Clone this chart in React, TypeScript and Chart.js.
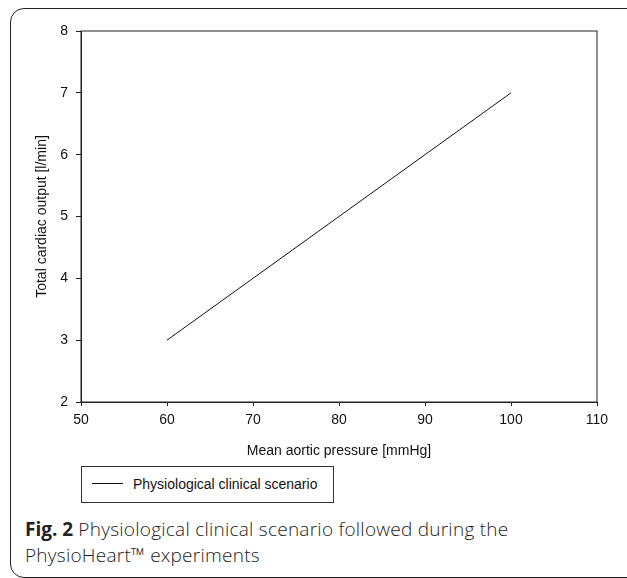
import React, { useEffect, useRef } from "react";
import { Chart, registerables } from "chart.js";

Chart.register(...registerables);

const pressure = [60, 70, 80, 90, 100];
const cardiacOutput = [3, 4, 5, 6, 7];
const seriesLabel = "Physiological clinical scenario";
const xTitle = "Mean aortic pressure [mmHg]";
const yTitle = "Total cardiac output [l/min]";

const frameBorder = {
  id: "frameBorder",
  afterDraw(chart: any) {
    const { ctx, chartArea } = chart;
    ctx.save();
    ctx.strokeStyle = "#222";
    ctx.lineWidth = 1;
    ctx.strokeRect(chartArea.left, chartArea.top, chartArea.right - chartArea.left, chartArea.bottom - chartArea.top);
    ctx.restore();
  },
};

export default function App() {
  const ref = useRef<HTMLCanvasElement>(null);
  useEffect(() => {
    const font = { family: "'Liberation Sans', Arial, sans-serif", size: 14 };
    const chart = new Chart(ref.current!, {
      type: "line",
      data: {
        datasets: [
          {
            label: seriesLabel,
            data: pressure.map((x, i) => ({ x, y: cardiacOutput[i] })),
            borderColor: "#111",
            borderWidth: 1,
            pointRadius: 0,
            tension: 0,
          },
        ],
      },
      options: {
        animation: false,
        responsive: false,
        layout: { padding: { left: 30, right: 30, top: 31, bottom: 0 } },
        plugins: { legend: { display: false }, tooltip: { enabled: false } },
        scales: {
          x: {
            type: "linear",
            min: 50,
            max: 110,
            ticks: { stepSize: 10, color: "#111", font, padding: 6 },
            grid: { display: true, drawOnChartArea: false, tickLength: 4, color: "#222" },
            border: { display: true, color: "#222" },
            title: { display: true, text: xTitle, color: "#111", font, padding: { top: 0, bottom: 0 } },
            afterFit: (s: any) => { s.height = 58; },
          },
          y: {
            type: "linear",
            min: 2,
            max: 8,
            ticks: { stepSize: 1, color: "#111", font, padding: 8 },
            grid: { display: true, drawOnChartArea: false, tickLength: 5, color: "#222" },
            border: { display: true, color: "#222" },
            title: { display: true, text: yTitle, color: "#111", font, padding: { top: 4, bottom: 4 } },
            afterFit: (s: any) => { s.width = 51; },
          },
        },
      },
      plugins: [frameBorder],
    });
    return () => chart.destroy();
  }, []);

  return (
    <div style={{ position: "absolute", left: 0, top: 0, width: 627, height: 578, background: "#fff", overflow: "hidden" }}>
      <div
        style={{
          position: "absolute",
          left: 10,
          top: 8,
          width: 640,
          height: 570,
          border: "1.5px solid #222",
          borderRadius: "14px 0 0 14px",
          boxSizing: "border-box",
        }}
      />
      <canvas ref={ref} width={627} height={460} style={{ position: "absolute", left: 0, top: 0, width: 627, height: 460 }} />
      <div
        style={{
          position: "absolute",
          left: 81,
          top: 466,
          width: 253,
          height: 37,
          border: "1px solid #333",
          boxSizing: "border-box",
          fontFamily: "'Liberation Sans', Arial, sans-serif",
          fontSize: 14,
          color: "#111",
        }}
      >
        <div style={{ position: "absolute", left: 10, top: 16, width: 31, height: 1, background: "#111" }} />
        <div style={{ position: "absolute", left: 51, top: 9, whiteSpace: "nowrap", lineHeight: "16px" }}>{seriesLabel}</div>
      </div>
      <div
        style={{
          position: "absolute",
          left: 25,
          top: 516,
          fontFamily: "'Open Sans', sans-serif",
          fontWeight: 300,
          fontSize: 19,
          letterSpacing: 0.25,
          lineHeight: "26px",
          color: "#222",
          whiteSpace: "nowrap",
        }}
      >
        <b style={{ fontWeight: 700, letterSpacing: 0 }}>Fig. 2</b> Physiological clinical scenario followed during the
        <br />
        PhysioHeart™ experiments
      </div>
    </div>
  );
}
